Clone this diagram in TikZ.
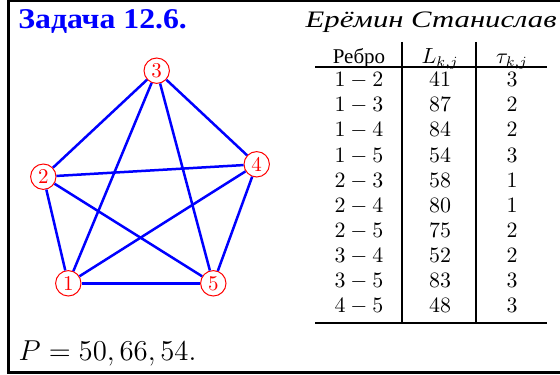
\documentclass[tikz,border=0pt]{standalone}
\usepackage{fontspec}
\newfontfamily\cyrfont{Liberation Serif}
\newfontfamily\titlefont{Liberation Serif}[FakeStretch=1.11]
\newfontfamily\namefont{Liberation Serif}[FakeStretch=1.3]

\begin{document}
\begin{tikzpicture}[x=0.5pt,y=-0.5pt,
  vertex/.style={circle,draw=red,text=red,line width=0.5pt,minimum size=12.7pt,
    inner sep=0pt,font=\fontsize{10.5}{12}\selectfont},
  edge/.style={blue,line width=1.25pt},
  cell/.style={anchor=base,inner sep=0pt,font=\fontsize{10.5}{12}\selectfont},
  rule/.style={line width=1pt}]
  \useasboundingbox (0,0) rectangle (560,374);
  % frame, open on the right
  \draw[line width=1.3pt] (570,0.8) -- (8.7,0.8) -- (8.7,372.3) -- (570,372.3);

  \node[anchor=base west,inner sep=0pt,text=blue,
    font=\titlefont\bfseries\fontsize{14.3}{16}\selectfont] (title) at (18,29) {Задача 12.6.};
  \node[anchor=base east,inner sep=0pt,
    font=\namefont\itshape\fontsize{11.8}{13}\selectfont] (author) at (557,28) {Ерёмин Станислав};

  % graph K5
  \node[vertex] (v1) at (68.3,283.3) {1};
  \node[vertex] (v2) at (43.3,176.7) {2};
  \node[vertex] (v3) at (156.7,70.7) {3};
  \node[vertex] (v4) at (256.7,164.3) {4};
  \node[vertex] (v5) at (213.3,283.3) {5};
  \foreach \s/\t in {1/2,1/3,1/4,1/5,2/3,2/4,2/5,3/4,3/5,4/5}
    \draw[edge] (v\s) -- (v\t);

  % table
  \node[cell] (hedge) at (359,63.3) {\cyrfont Ребро};
  \node[cell] (hlen) at (440,63.3) {$L_{k,j}$};
  \node[cell] (htau) at (512,63.3) {$\tau_{k,j}$};
  \foreach \a/\b/\len/\tk [count=\i from 0] in {1/2/41/3, 1/3/87/2, 1/4/84/2,
      1/5/54/3, 2/3/58/1, 2/4/80/1, 2/5/75/2, 3/4/52/2, 3/5/83/3, 4/5/48/3} {
    \node[cell] (e\i) at (359,86.7+25.1*\i) {$\a-\b$};
    \node[cell] (l\i) at (440,86.7+25.1*\i) {$\len$};
    \node[cell] (t\i) at (512,86.7+25.1*\i) {$\tk$};
  }
  \draw[rule] (315,67) -- (547,67);
  \draw[rule] (315,323) -- (547,323);
  \draw[rule] (402,42) -- (402,323);
  \draw[rule] (476,42) -- (476,323);

  \node[anchor=base west,inner sep=0pt,font=\fontsize{14.75}{17}\selectfont]
    (perim) at (18.3,360) {$P=50,66,54.$};
\end{tikzpicture}
\end{document}
